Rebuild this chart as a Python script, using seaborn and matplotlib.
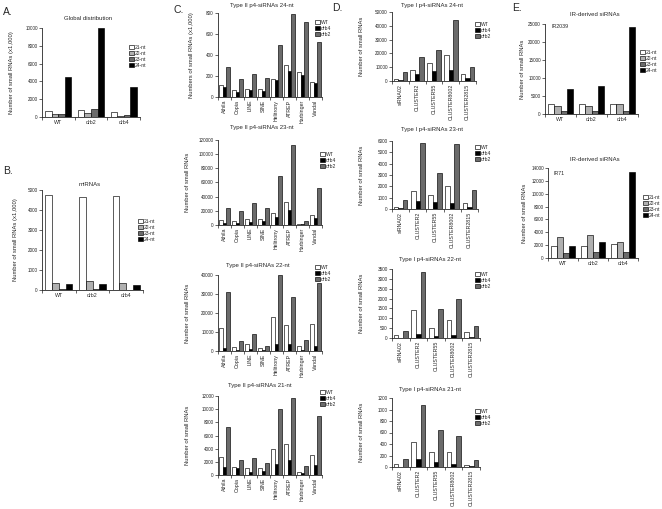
import numpy as np
import pandas as pd
import seaborn as sns
import matplotlib
matplotlib.use("Agg")
import matplotlib.pyplot as plt
from matplotlib.ticker import FixedLocator, MultipleLocator

# ---- data ----
nt_sizes = ["21-nt", "22-nt", "23-nt", "24-nt"]
genotypes = ["WT", "drb2", "drb4"]
type2_lines = ["WT", "drb4", "drb2"]
te_families = ["Athila", "Copia", "LINE", "SINE", "Helitrony", "ATREP", "Harbinger", "Vandal"]
clusters = ["siRNA02", "CLUSTER2", "CLUSTER55", "CLUSTER8002", "CLUSTER2815"]

global_dist = {"21-nt": [700, 800, 600], "22-nt": [300, 500, 100],
               "23-nt": [300, 900, 200], "24-nt": [4450, 10000, 3350]}
mirnas = {"21-nt": [4750, 4630, 4700], "22-nt": [330, 450, 370],
          "23-nt": [50, 50, 20], "24-nt": [280, 300, 270]}

t2_24 = {"WT": [112, 70, 79, 79, 168, 307, 235, 146],
         "drb4": [92, 48, 63, 57, 165, 244, 206, 133],
         "drb2": [285, 174, 222, 184, 491, 795, 713, 523]}
t2_23 = {"WT": [6500, 5600, 8500, 8500, 17400, 33000, 1000, 14100],
         "drb4": [3500, 3300, 4700, 5600, 11800, 20700, 1000, 10400],
         "drb2": [23500, 19800, 30600, 24500, 69000, 113000, 6100, 52700]}
t2_22 = {"WT": [12000, 2100, 3500, 1400, 18000, 13500, 2500, 14000],
         "drb4": [1500, 500, 800, 300, 3500, 3500, 500, 2800],
         "drb2": [31000, 5300, 9000, 2500, 40000, 28500, 6000, 36000]}
t2_21 = {"WT": [2700, 1140, 990, 990, 3950, 4690, 400, 3110],
         "drb4": [1200, 990, 490, 590, 1630, 2220, 250, 1480],
         "drb2": [7300, 2320, 2620, 1830, 9980, 11700, 1330, 8890]}

t1_24 = {"WT": [1700, 7700, 13000, 18600, 5300],
         "drb4": [1000, 5300, 7000, 7700, 2400],
         "drb2": [6800, 17400, 22200, 44000, 10100]}
t1_23 = {"WT": [175, 1600, 1220, 2040, 520],
         "drb4": [60, 730, 580, 520, 200],
         "drb2": [790, 5860, 3150, 5710, 1660]}
t1_22 = {"WT": [135, 1400, 520, 890, 290],
         "drb4": [10, 200, 120, 150, 50],
         "drb2": [370, 3370, 1460, 2000, 590]}
t1_21 = {"WT": [58, 433, 263, 263, 41],
         "drb4": [5, 140, 82, 47, 12],
         "drb2": [146, 1070, 637, 532, 117]}

ir2039 = {"21-nt": [2770, 2770, 2770], "22-nt": [2100, 2100, 2770],
          "23-nt": [750, 850, 800], "24-nt": [6900, 7650, 24200]}
ir71 = {"21-nt": [1920, 1810, 2230], "22-nt": [3260, 3630, 2440],
        "23-nt": [780, 880, 880], "24-nt": [1920, 2440, 13370]}

nt_colors = ["white", "#b0b0b0", "#6b6b6b", "black"]
line_colors = ["white", "black", "#6b6b6b"]

# ---- figure ----
sns.set_style("ticks")
plt.rcParams["font.family"] = ["Liberation Sans", "DejaVu Sans"]
plt.rcParams["axes.formatter.useoffset"] = False

W, H = 662, 509
fig = plt.figure(figsize=(W / 100, H / 100), dpi=100)


def panel(box, cats, series, order, colors, ymax, ystep, rotate, leg, ylab, ylab_x, title, title_xy):
    l, t, r, b = box
    ax = fig.add_axes([l / W, 1 - b / H, (r - l) / W, (b - t) / H])
    df = pd.DataFrame([(c, s, v) for s in order for c, v in zip(cats, series[s])],
                      columns=["cat", "series", "val"])
    sns.barplot(df, x="cat", y="val", hue="series", order=cats, hue_order=order,
                palette=colors, edgecolor="black", linewidth=0.45, width=0.8, gap=0,
                errorbar=None, ax=ax)
    ax.set_xlim(-0.5, len(cats) - 0.5)
    ax.set_ylim(0, ymax)
    ax.yaxis.set_major_locator(MultipleLocator(ystep))
    ax.xaxis.set_minor_locator(FixedLocator(np.arange(len(cats) + 1) - 0.5))
    ax.tick_params(axis="x", which="major", length=0, labelsize=3.8, pad=2,
                   labelrotation=90 if rotate else 0)
    ax.tick_params(axis="x", which="minor", length=2, width=0.5)
    ax.tick_params(axis="y", length=2, width=0.5, labelsize=3.3, pad=1)
    sns.despine(ax=ax)
    for sp in ax.spines.values():
        sp.set_linewidth(0.6)
    ax.set_xlabel("")
    ax.set_ylabel(ylab, fontsize=4.2)
    ax.yaxis.set_label_coords((ylab_x - l) / (r - l), 0.5)
    h, lab = ax.get_legend_handles_labels()
    ax.legend(h, lab, loc="upper left", bbox_to_anchor=(leg[0] / W, 1 - leg[1] / H),
              bbox_transform=fig.transFigure, frameon=False, fontsize=3.6,
              handlelength=0.9, handleheight=0.9, handletextpad=0.3,
              labelspacing=0.2, borderpad=0, borderaxespad=0)
    fig.text(title_xy[0] / W, 1 - title_xy[1] / H, title, ha="center", va="center", fontsize=4.3)
    return ax


ylab_k = "Number of small RNAs (x1,000)"
ylab_n = "Number of small RNAs"

# A / B
panel((42, 28, 140, 117), genotypes, global_dist, nt_sizes, nt_colors, 10000, 2000, False,
      (129, 45), ylab_k, 14, "Global distribution", (88, 18))
panel((42, 190, 143, 290), genotypes, mirnas, nt_sizes, nt_colors, 5000, 1000, False,
      (138, 219), ylab_k, 18, "miRNAs", (90, 185))

# C
panel((218, 13, 322, 97), te_families, t2_24, type2_lines, line_colors, 800, 200, True,
      (315, 20), "Numbers of small RNAs (x1,000)", 194, "Type II p4-siRNAs 24-nt", (262, 5))
panel((218, 140, 322, 225), te_families, t2_23, type2_lines, line_colors, 120000, 20000, True,
      (320, 152), ylab_n, 190, "Type II p4-siRNAs 23-nt", (262, 128))
panel((218, 275, 322, 351), te_families, t2_22, type2_lines, line_colors, 40000, 10000, True,
      (315, 265), ylab_n, 190, "Type II p4-siRNAs 22-nt", (258, 266))
panel((218, 396, 322, 475), te_families, t2_21, type2_lines, line_colors, 12000, 2000, True,
      (320, 390), ylab_n, 190, "Type II p4-siRNAs 21-nt", (260, 385))

# D
panel((392, 12, 476, 81), clusters, t1_24, type2_lines, line_colors, 50000, 10000, True,
      (475, 22), ylab_n, 364, "Type I p4-siRNAs 24-nt", (432, 5))
panel((392, 141, 478, 209), clusters, t1_23, type2_lines, line_colors, 6000, 1000, True,
      (475, 145), ylab_n, 364, "Type I p4-siRNAs 23-nt", (432, 129))
panel((392, 269, 480, 338), clusters, t1_22, type2_lines, line_colors, 3500, 500, True,
      (475, 272), ylab_n, 364, "Type I p4-siRNAs 22-nt", (430, 260))
panel((392, 398, 480, 467), clusters, t1_21, type2_lines, line_colors, 1200, 200, True,
      (475, 409), ylab_n, 364, "Type I p4-siRNAs 21-nt", (430, 390))

# E
panel((545, 24, 638, 114), genotypes, ir2039, nt_sizes, nt_colors, 25000, 5000, False,
      (640, 50), ylab_n, 525, "IR-derived siRNAs", (595, 14))
panel((548, 168, 638, 258), genotypes, ir71, nt_sizes, nt_colors, 14000, 2000, False,
      (643, 195), ylab_n, 527, "IR-derived siRNAs", (595, 160))
fig.text(552 / W, 1 - 27 / H, "IR2039", ha="left", va="center", fontsize=3.8)
fig.text(553 / W, 1 - 173 / H, "IR71", ha="left", va="center", fontsize=3.8)

for letter, x, y in [("A.", 3, 12), ("B.", 3, 171), ("C.", 173, 10), ("D.", 332, 8), ("E.", 512, 8)]:
    fig.text(x / W, 1 - y / H, letter, ha="left", va="center", fontsize=7.5)

fig.savefig("out.png", dpi=100)
